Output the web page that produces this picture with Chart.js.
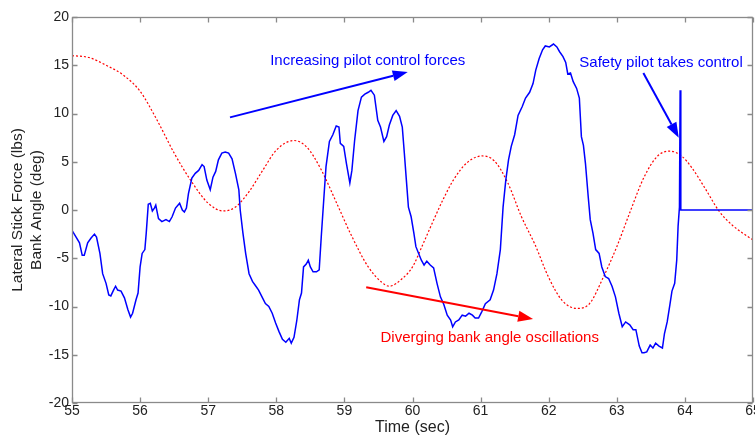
<!DOCTYPE html>
<html>
<head>
<meta charset="utf-8">
<script src="https://cdn.jsdelivr.net/npm/chart.js@4.4.0/dist/chart.umd.min.js"></script>
<style>
  html, body { margin: 0; padding: 0; background: #fff; }
  #wrap { width: 755px; height: 436px; }
</style>
</head>
<body>
<div id="wrap"><canvas id="pioChart" width="755" height="436"></canvas></div>
<script>
// time-history of a PIO event: stick force (blue) and bank angle (red)

const xTicks = [55, 56, 57, 58, 59, 60, 61, 62, 63, 64, 65];
const yTicks = [-20, -15, -10, -5, 0, 5, 10, 15, 20];

const forceTime = [
  55.00, 55.06, 55.11, 55.15, 55.18, 55.23, 55.28, 55.33, 55.36, 55.41, 55.45, 55.50, 55.54, 55.57, 55.61,
  55.64, 55.67, 55.72, 55.77, 55.82, 55.86, 55.89, 55.94, 55.97, 56.00, 56.03, 56.07, 56.09, 56.12, 56.15,
  56.18, 56.21, 56.23, 56.27, 56.32, 56.38, 56.43, 56.47, 56.52, 56.58, 56.62, 56.65, 56.68, 56.71, 56.76,
  56.81, 56.86, 56.91, 56.94, 56.98, 57.03, 57.07, 57.11, 57.15, 57.20, 57.25, 57.30, 57.35, 57.40, 57.45,
  57.47, 57.51, 57.55, 57.60, 57.65, 57.69, 57.74, 57.79, 57.84, 57.89, 57.94, 57.99, 58.04, 58.09, 58.14,
  58.19, 58.22, 58.26, 58.30, 58.34, 58.37, 58.40, 58.44, 58.47, 58.50, 58.54, 58.59, 58.63, 58.66, 58.70,
  58.73, 58.78, 58.83, 58.88, 58.92, 58.94, 58.99, 59.03, 59.08, 59.11, 59.15, 59.20, 59.25, 59.30, 59.35,
  59.39, 59.44, 59.49, 59.53, 59.58, 59.62, 59.66, 59.71, 59.76, 59.81, 59.85, 59.88, 59.91, 59.94, 59.98,
  60.02, 60.05, 60.09, 60.13, 60.17, 60.21, 60.26, 60.31, 60.36, 60.41, 60.46, 60.51, 60.56, 60.59, 60.63,
  60.68, 60.73, 60.78, 60.83, 60.88, 60.92, 60.97, 61.02, 61.07, 61.14, 61.19, 61.24, 61.29, 61.33, 61.37,
  61.41, 61.45, 61.50, 61.55, 61.61, 61.66, 61.72, 61.77, 61.81, 61.86, 61.91, 61.95, 62.01, 62.07, 62.12,
  62.16, 62.21, 62.25, 62.28, 62.32, 62.36, 62.41, 62.45, 62.48, 62.51, 62.54, 62.58, 62.61, 62.65, 62.69,
  62.74, 62.78, 62.83, 62.88, 62.93, 62.98, 63.03, 63.08, 63.13, 63.19, 63.24, 63.28, 63.33, 63.37, 63.40,
  63.44, 63.49, 63.53, 63.57, 63.62, 63.67, 63.70, 63.74, 63.78, 63.81, 63.85, 63.88, 63.90, 63.92, 63.93,
  63.94, 65.00
];
const stickForce = [
  -2.1, -2.8, -3.4, -4.7, -4.7, -3.4, -2.9, -2.5, -2.8, -4.5, -6.6, -7.6, -8.8, -8.9, -8.3,
  -7.9, -8.3, -8.4, -9.1, -10.3, -11.1, -10.7, -9.3, -8.6, -5.9, -4.5, -4.1, -2.4, 0.6, 0.7,
  -0.1, 0.2, 0.5, -0.9, -1.2, -1.0, -1.2, -0.7, 0.2, 0.7, 0.0, -0.2, 0.2, 1.7, 3.3,
  3.8, 4.1, 4.7, 4.5, 3.1, 2.1, 3.4, 4.0, 5.2, 5.9, 6.0, 5.9, 5.3, 3.8, 2.1,
  0.0, -2.4, -4.5, -6.6, -7.4, -7.8, -8.3, -9.0, -9.7, -10.0, -10.7, -11.7, -12.6, -13.4, -13.7,
  -13.3, -13.8, -13.2, -11.5, -9.3, -8.6, -5.9, -5.6, -5.2, -5.9, -6.4, -6.4, -6.2, -2.8, 1.4,
  4.5, 7.1, 7.8, 8.7, 8.6, 6.9, 6.6, 4.8, 2.8, 4.1, 7.2, 10.3, 11.7, 12.0, 12.2,
  12.4, 11.9, 9.3, 8.6, 7.1, 7.6, 8.8, 9.8, 10.3, 9.7, 8.6, 5.9, 3.1, 0.3, -0.7,
  -2.4, -3.8, -4.5, -5.2, -5.7, -5.3, -5.7, -6.0, -7.6, -9.0, -9.8, -10.9, -11.4, -12.1, -11.6,
  -11.4, -10.9, -11.0, -10.7, -10.9, -11.2, -11.2, -10.5, -9.7, -9.3, -8.3, -6.6, -4.1, 0.3, 3.1,
  5.2, 6.6, 7.8, 9.8, 10.7, 11.6, 12.2, 13.1, 14.5, 15.7, 16.6, 17.0, 16.9, 17.2, 16.9,
  16.4, 15.9, 15.3, 14.1, 14.2, 13.3, 12.6, 11.6, 7.6, 6.7, 4.8, 1.4, -1.0, -2.4, -4.1,
  -4.5, -5.9, -6.9, -7.1, -7.9, -9.0, -10.7, -12.1, -11.6, -11.9, -12.4, -12.4, -14.1, -14.8, -14.8,
  -14.7, -14.0, -14.3, -13.8, -14.1, -14.3, -12.8, -11.6, -9.8, -8.4, -7.6, -5.2, -1.7, 0.3, 12.4,
  0.0, 0.0
];

const bankTime = [
  55.00, 55.25, 55.50, 55.75, 56.00, 56.25, 56.50, 56.75, 57.00, 57.22, 57.40, 57.60, 57.80, 58.00, 58.26,
  58.45, 58.65, 58.90, 59.10, 59.35, 59.55, 59.66, 59.85, 60.00, 60.15, 60.30, 60.45, 60.60, 60.80, 61.02,
  61.20, 61.40, 61.60, 61.80, 62.00, 62.20, 62.42, 62.60, 62.80, 63.00, 63.20, 63.40, 63.60, 63.78, 63.95,
  64.10, 64.30, 64.50, 64.70, 64.85, 65.00
];
const bankAngle = [
  16.0, 15.8, 15.0, 14.0, 12.3, 9.3, 5.9, 3.0, 0.7, -0.1, 0.3, 1.9, 4.1, 6.2, 7.2,
  6.5, 4.3, 0.5, -2.6, -5.9, -7.5, -7.9, -7.1, -5.9, -3.6, -1.2, 1.1, 3.1, 4.9, 5.6,
  5.1, 2.8, -0.7, -3.6, -7.0, -9.4, -10.2, -9.7, -7.0, -3.8, -0.1, 3.4, 5.6, 6.1, 5.6,
  4.4, 2.2, -0.1, -1.6, -2.4, -3.1
];

const notes = [
  { text: 'Increasing pilot control forces', color: '#0000ff', at: [57.91, 15.5], from: [57.32, 9.6], to: [59.93, 14.3] },
  { text: 'Safety pilot takes control', color: '#0000ff', at: [62.45, 15.2], from: [63.39, 14.2], to: [63.91, 7.5] },
  { text: 'Diverging bank angle oscillations', color: '#ff0000', at: [59.53, -13.2], from: [59.32, -8.0], to: [61.77, -11.3] }
];

function toPoints(xs, ys) {
  return xs.map((x, i) => ({ x: x, y: ys[i] }));
}

// box round the plot with inward ticks on all four sides (matlab look)
const framePlugin = {
  id: 'frame',
  afterDraw(chart) {
    const { ctx, chartArea: a, scales } = chart;
    const L = Math.round(a.left) + 0.5, R = Math.round(a.right) - 0.5;
    const T = Math.round(a.top) + 0.5, B = Math.round(a.bottom) - 0.5;
    ctx.save();
    ctx.strokeStyle = '#8a8a8a';
    ctx.lineWidth = 1.3;
    ctx.strokeRect(L, T, R - L, B - T);
    ctx.beginPath();
    xTicks.forEach(v => {
      const px = Math.round(scales.x.getPixelForValue(v)) + 0.5;
      ctx.moveTo(px, B); ctx.lineTo(px, B - 5);
      ctx.moveTo(px, T); ctx.lineTo(px, T + 5);
    });
    yTicks.forEach(v => {
      const py = Math.round(scales.y.getPixelForValue(v)) + 0.5;
      ctx.moveTo(L, py); ctx.lineTo(L + 5, py);
      ctx.moveTo(R, py); ctx.lineTo(R - 5, py);
    });
    ctx.stroke();
    ctx.restore();
  }
};

// text labels and arrows, placed in data units
const notesPlugin = {
  id: 'notes',
  afterDatasetsDraw(chart) {
    const { ctx, scales } = chart;
    const px = p => [scales.x.getPixelForValue(p[0]), scales.y.getPixelForValue(p[1])];
    ctx.save();
    notes.forEach(n => {
      ctx.fillStyle = n.color;
      ctx.strokeStyle = n.color;
      ctx.font = '15px "Liberation Sans", Arial, sans-serif';
      ctx.textAlign = 'left';
      ctx.textBaseline = 'middle';
      const [tx, ty] = px(n.at);
      ctx.fillText(n.text, tx, ty);

      const [x0, y0] = px(n.from);
      const [x1, y1] = px(n.to);
      const ang = Math.atan2(y1 - y0, x1 - x0);
      const headLen = 15, headW = 5.5;
      const bx = x1 - headLen * Math.cos(ang), by = y1 - headLen * Math.sin(ang);
      ctx.lineWidth = 2;
      ctx.beginPath();
      ctx.moveTo(x0, y0);
      ctx.lineTo(bx, by);
      ctx.stroke();
      ctx.beginPath();
      ctx.moveTo(x1, y1);
      ctx.lineTo(bx + headW * Math.sin(ang), by - headW * Math.cos(ang));
      ctx.lineTo(bx - headW * Math.sin(ang), by + headW * Math.cos(ang));
      ctx.closePath();
      ctx.fill();
    });
    ctx.restore();
  }
};

const tickFont = { family: '"Liberation Sans", Arial, sans-serif', size: 14 };

const ctx = document.getElementById('pioChart').getContext('2d');
const pioChart = new Chart(ctx, {
  type: 'line',
  data: {
    datasets: [
      {
        label: 'Lateral stick force',
        data: toPoints(forceTime, stickForce),
        borderColor: '#0000ff',
        borderWidth: 1.5,
        pointRadius: 0,
        tension: 0
      },
      {
        label: 'Bank angle',
        data: toPoints(bankTime, bankAngle),
        borderColor: '#ff0000',
        borderWidth: 1.2,
        borderDash: [2, 2],
        pointRadius: 0,
        cubicInterpolationMode: 'monotone'
      }
    ]
  },
  options: {
    responsive: false,
    animation: false,
    devicePixelRatio: 1,
    layout: { padding: { top: 17, right: 2, left: 0, bottom: 0 } },
    plugins: {
      legend: { display: false },
      tooltip: { enabled: false }
    },
    scales: {
      x: {
        type: 'linear',
        min: 55,
        max: 65,
        afterBuildTicks: s => { s.ticks = xTicks.map(v => ({ value: v })); },
        afterFit: s => { s.height = 33; s.paddingLeft = 0; s.paddingRight = 0; },
        grid: { display: false, drawTicks: false },
        border: { display: false },
        ticks: { font: tickFont, color: '#222', padding: 0, maxRotation: 0, autoSkip: false },
        title: {
          display: true,
          text: 'Time (sec)',
          font: { family: '"Liberation Sans", Arial, sans-serif', size: 16, lineHeight: 1.0 },
          color: '#222',
          padding: { top: 0, bottom: 0 }
        }
      },
      y: {
        type: 'linear',
        min: -20,
        max: 20,
        afterBuildTicks: s => { s.ticks = yTicks.map(v => ({ value: v })); },
        afterFit: s => { s.width = 72; s.paddingTop = 0; s.paddingBottom = 0; },
        grid: { display: false, drawTicks: false },
        border: { display: false },
        ticks: { font: tickFont, color: '#222', padding: 3, autoSkip: false },
        title: {
          display: true,
          text: ['Lateral Stick Force (lbs)', 'Bank Angle (deg)'],
          font: { family: '"Liberation Sans", Arial, sans-serif', size: 15.5, lineHeight: 1.25 },
          color: '#222',
          padding: { top: 8, bottom: 0 }
        }
      }
    }
  },
  plugins: [framePlugin, notesPlugin]
});
</script>
</body>
</html>
